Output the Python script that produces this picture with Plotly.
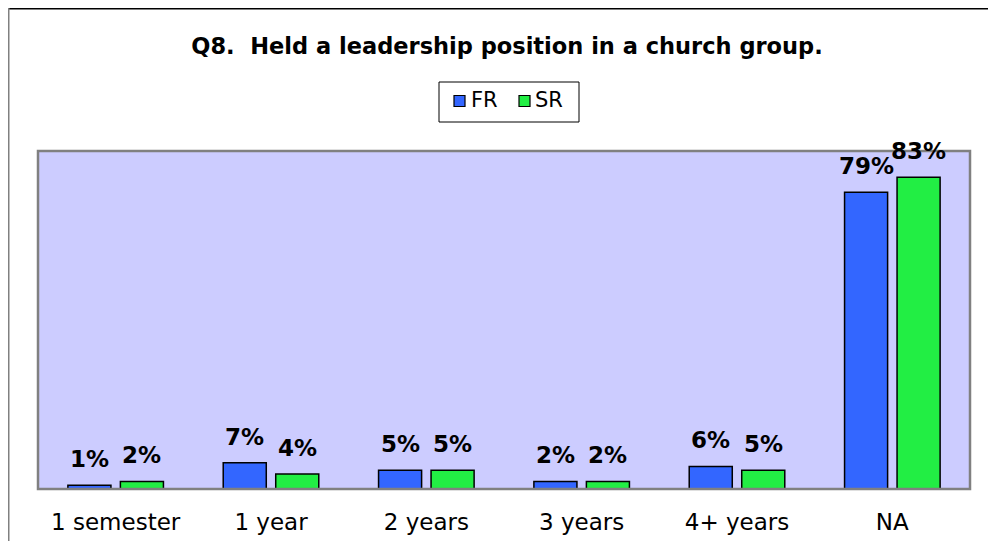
import plotly.graph_objects as go

categories = ["1 semester", "1 year", "2 years", "3 years", "4+ years", "NA"]
fr_values = [1, 7, 5, 2, 6, 79]
sr_values = [2, 4, 5, 2, 5, 83]
fr_labels = ["1%", "7%", "5%", "2%", "6%", "79%"]
sr_labels = ["2%", "4%", "5%", "2%", "5%", "83%"]
series_names = ["FR", "SR"]
series_colors = ["#3366FF", "#22EE44"]

# page has an 8px body margin, so figure is drawn 8px in from the window edge
W, H = 980, 533
L, R, T, B = 30, 18, 143, 52
pw = W - L - R
ph = H - T - B

font = "DejaVu Sans, Verdana, sans-serif"
BARGAP = 0.324
BARGROUPGAP = 0.18


def px_x(p):
    return (p - L) / pw


def px_y(p):
    return 1 - (p - T) / ph


fig = go.Figure()
for name, vals, col in zip(series_names, [fr_values, sr_values], series_colors):
    fig.add_trace(go.Bar(name=name, x=categories, y=vals,
                         marker=dict(color=col, line=dict(color="black", width=1.5))))

# value labels above bars
cat_w = pw / len(categories)
slot = (1 - BARGAP) * cat_w / 2
annotations = []
for k, (vals, labs) in enumerate([(fr_values, fr_labels), (sr_values, sr_labels)]):
    off = (k - 0.5) * slot
    for c, v, t in zip(categories, vals, labs):
        annotations.append(dict(x=c, y=v, xref="x", yref="y", text="<b>" + t + "</b>",
                                showarrow=False, xanchor="center", yanchor="bottom",
                                xshift=off, yshift=11,
                                font=dict(family=font, size=23, color="black")))

# manual legend (text)
for name, xpos in zip(series_names, [461, 525]):
    annotations.append(dict(x=px_x(xpos), y=px_y(92), xref="paper", yref="paper", text=name,
                            showarrow=False, xanchor="left", yanchor="middle",
                            font=dict(family=font, size=21, color="black")))

shapes = [
    # plot-area frame
    dict(type="rect", xref="paper", yref="paper", x0=0, x1=1, y0=0, y1=1,
         line=dict(color="#808080", width=2.5), layer="above"),
    # outer chart frame (top & left visible)
    dict(type="line", xref="paper", yref="paper", x0=px_x(0), x1=px_x(W + 5),
         y0=px_y(0.75), y1=px_y(0.75), line=dict(color="black", width=1.5)),
    dict(type="line", xref="paper", yref="paper", x0=px_x(0.75), x1=px_x(0.75),
         y0=px_y(0), y1=px_y(H + 5), line=dict(color="#808080", width=1.5)),
    # legend box
    dict(type="rect", xref="paper", yref="paper", x0=px_x(431), x1=px_x(571),
         y0=px_y(74), y1=px_y(114), line=dict(color="black", width=1), fillcolor="white"),
]
for col, xpos in zip(series_colors, [446, 511]):
    shapes.append(dict(type="rect", xref="paper", yref="paper", x0=px_x(xpos), x1=px_x(xpos + 11),
                       y0=px_y(87.5), y1=px_y(98.5), line=dict(color="black", width=1.2),
                       fillcolor=col))

fig.update_layout(
    width=W, height=H,
    margin=dict(l=L, r=R, t=T, b=B, autoexpand=False),
    paper_bgcolor="white",
    plot_bgcolor="#CCCCFF",
    barmode="group",
    bargap=BARGAP,
    bargroupgap=BARGROUPGAP,
    showlegend=False,
    title=dict(text="<b>Q8.\u00a0 Held a leadership position in a church group.</b>",
               x=px_x(499), xref="paper", xanchor="center", y=1 - 38 / H, yanchor="middle",
               font=dict(family=font, size=22.5, color="black")),
    xaxis=dict(showgrid=False, showline=False, ticks="", ticklabelstandoff=17,
               automargin=False,
               tickfont=dict(family=font, size=23, color="black")),
    yaxis=dict(range=[0, 90], showgrid=False, showticklabels=False, showline=False,
               zeroline=False, ticks="", automargin=False),
    shapes=shapes,
    annotations=annotations,
)

fig.write_html("out.html")
